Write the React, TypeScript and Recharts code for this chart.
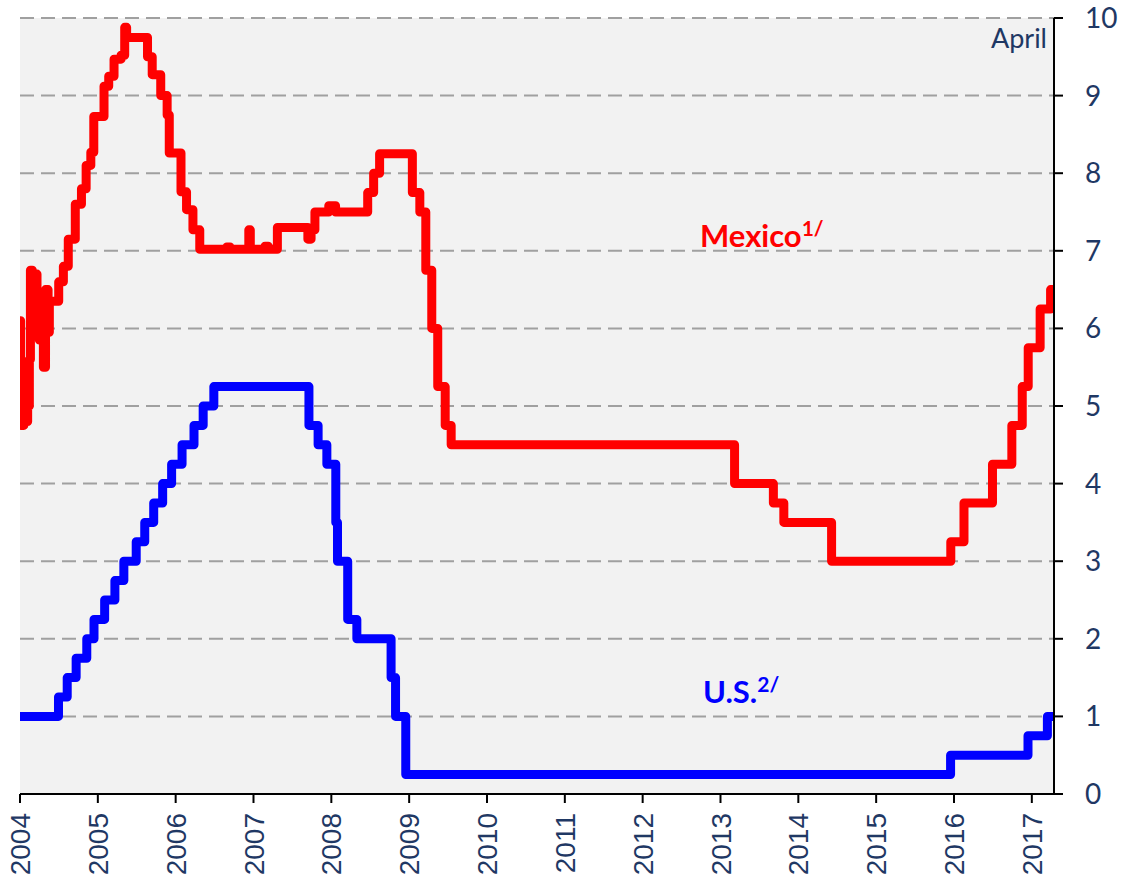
import React from 'react';
import { LineChart, Line, XAxis, YAxis, CartesianGrid } from 'recharts';

// Mexico: overnight interbank rate until 2008, Banxico target afterwards
const mexicoDates = [
  '2004-01-01', '2004-01-04', '2004-01-08', '2004-01-19', '2004-02-06', '2004-02-14',
  '2004-02-19', '2004-02-28', '2004-03-14', '2004-03-21', '2004-04-01', '2004-04-12',
  '2004-04-20', '2004-04-30', '2004-05-12', '2004-05-18', '2004-06-14', '2004-07-01',
  '2004-07-23', '2004-08-15', '2004-09-17', '2004-10-16', '2004-11-07', '2004-11-29',
  '2004-12-13', '2005-01-30', '2005-02-21', '2005-03-18', '2005-04-20', '2005-05-07',
  '2005-05-16', '2005-08-22', '2005-09-13', '2005-10-23', '2005-11-22', '2005-12-02',
  '2006-01-26', '2006-02-21', '2006-03-23', '2006-04-24', '2006-08-29', '2006-09-13',
  '2006-12-10', '2006-12-17', '2007-02-24', '2007-03-11', '2007-04-23', '2007-09-13',
  '2007-09-28', '2007-10-16', '2007-12-20', '2008-01-21', '2008-06-20', '2008-07-18',
  '2008-08-15', '2009-01-16', '2009-02-20', '2009-03-20', '2009-04-17', '2009-05-15',
  '2009-06-19', '2009-07-17', '2013-03-08', '2013-09-06', '2013-10-25', '2014-06-06',
  '2015-12-17', '2016-02-17', '2016-06-30', '2016-09-29', '2016-11-17', '2016-12-15',
  '2017-02-09', '2017-03-30',
];
const mexicoRates = [
  6.1, 5.3, 4.75, 4.8, 5.0, 5.6,
  6.75, 6.65, 6.7, 6.0, 5.85, 6.3,
  5.5, 6.5, 5.95, 6.35, 6.35, 6.6,
  6.8, 7.15, 7.6, 7.8, 8.1, 8.27,
  8.73, 9.12, 9.25, 9.47, 9.52, 9.88,
  9.75, 9.5, 9.27, 9.0, 8.75, 8.26,
  7.76, 7.53, 7.27, 7.02, 7.05, 7.02,
  7.27, 7.02, 7.06, 7.02, 7.3, 7.15,
  7.27, 7.5, 7.58, 7.5, 7.75, 8.0,
  8.25, 7.75, 7.5, 6.75, 6.0, 5.25,
  4.75, 4.5, 4.0, 3.75, 3.5, 3.0,
  3.25, 3.75, 4.25, 4.75, 5.25, 5.75,
  6.25, 6.5,
];

// U.S.: federal funds target
const usDates = [
  '2004-01-01', '2004-06-30', '2004-08-10', '2004-09-21', '2004-11-10', '2004-12-14',
  '2005-02-02', '2005-03-22', '2005-05-03', '2005-06-30', '2005-08-09', '2005-09-20',
  '2005-11-01', '2005-12-13', '2006-01-31', '2006-03-28', '2006-05-10', '2006-06-29',
  '2007-09-18', '2007-10-31', '2007-12-11', '2008-01-22', '2008-01-30', '2008-03-18',
  '2008-04-30', '2008-10-08', '2008-10-29', '2008-12-16', '2015-12-16', '2016-12-14',
  '2017-03-15',
];
const usRates = [
  1.0, 1.25, 1.5, 1.75, 2.0, 2.25,
  2.5, 2.75, 3.0, 3.25, 3.5, 3.75,
  4.0, 4.25, 4.5, 4.75, 5.0, 5.25,
  4.75, 4.5, 4.25, 3.5, 3.0, 2.25,
  2.0, 1.5, 1.0, 0.25, 0.5, 0.75,
  1.0,
];

const yearTicks = [2004, 2005, 2006, 2007, 2008, 2009, 2010, 2011, 2012, 2013, 2014, 2015, 2016, 2017];
const rateTicks = [0, 1, 2, 3, 4, 5, 6, 7, 8, 9, 10];
const lastDate = '2017-04-15';

const navy = '#1f3864';

function toYear(d: string) {
  const [y, m, day] = d.split('-').map(Number);
  const start = Date.UTC(y, 0, 1);
  const end = Date.UTC(y + 1, 0, 1);
  return y + (Date.UTC(y, m - 1, day) - start) / (end - start);
}

function buildSeries(dates: string[], rates: number[]) {
  const pts = dates.map((d, i) => ({ x: toYear(d), y: rates[i] }));
  pts.push({ x: toYear(lastDate), y: rates[rates.length - 1] });
  return pts;
}

const mexico = buildSeries(mexicoDates, mexicoRates);
const us = buildSeries(usDates, usRates);
const endYear = toYear(lastDate);

function YearTick(props: any) {
  const { x, y, payload } = props;
  return (
    <text
      x={x}
      y={y}
      transform={`rotate(-90, ${x}, ${y})`}
      textAnchor="end"
      dy="0.36em"
      fill={navy}
      fontSize={28}
      fontFamily="'Liberation Sans', Arial, sans-serif"
    >
      {payload.value}
    </text>
  );
}

export default function App() {
  return (
    <div style={{ position: 'absolute', left: 0, top: 0, background: '#fff' }}>
      <LineChart
        width={1122}
        height={881}
        margin={{ top: 18, right: 8, left: 20, bottom: 7 }}
      >
        <CartesianGrid
          vertical={false}
          stroke="#a0a0a0"
          strokeWidth={2}
          strokeDasharray="14 7"
          fill="#f2f2f2"
        />
        <XAxis
          type="number"
          dataKey="x"
          domain={[2004, endYear]}
          ticks={yearTicks}
          interval={0}
          allowDataOverflow
          height={80}
          tickSize={9}
          tickMargin={10}
          axisLine={{ stroke: '#000', strokeWidth: 2 }}
          tickLine={{ stroke: '#000', strokeWidth: 2 }}
          tick={<YearTick />}
        />
        <YAxis
          orientation="right"
          domain={[0, 10]}
          ticks={rateTicks}
          interval={0}
          width={60}
          tickSize={9}
          tickMargin={22}
          axisLine={{ stroke: '#000', strokeWidth: 2 }}
          tickLine={{ stroke: '#000', strokeWidth: 2 }}
          tick={{ fill: navy, fontSize: 28, fontFamily: 'Lato, sans-serif' }}
        />
        <Line
          data={mexico}
          dataKey="y"
          type="stepAfter"
          stroke="#ff0000"
          strokeWidth={9}
          strokeLinejoin="round"
          strokeLinecap="round"
          dot={false}
          isAnimationActive={false}
        />
        <Line
          data={us}
          dataKey="y"
          type="stepAfter"
          stroke="#0000ff"
          strokeWidth={9}
          strokeLinejoin="round"
          strokeLinecap="round"
          dot={false}
          isAnimationActive={false}
        />
        <text x={1047} y={48} textAnchor="end" fill={navy} fontSize={27} fontFamily="Lato, sans-serif">
          April
        </text>
        <text x={700} y={247} fill="#ff0000" fontSize={31} fontWeight="bold" fontFamily="Lato, sans-serif">
          Mexico
          <tspan fontSize={21} dy={-11}>1/</tspan>
        </text>
        <text x={703} y={703} fill="#0000ff" fontSize={31} fontWeight="bold" fontFamily="Lato, sans-serif">
          U.S.
          <tspan fontSize={21} dy={-11}>2/</tspan>
        </text>
      </LineChart>
    </div>
  );
}
